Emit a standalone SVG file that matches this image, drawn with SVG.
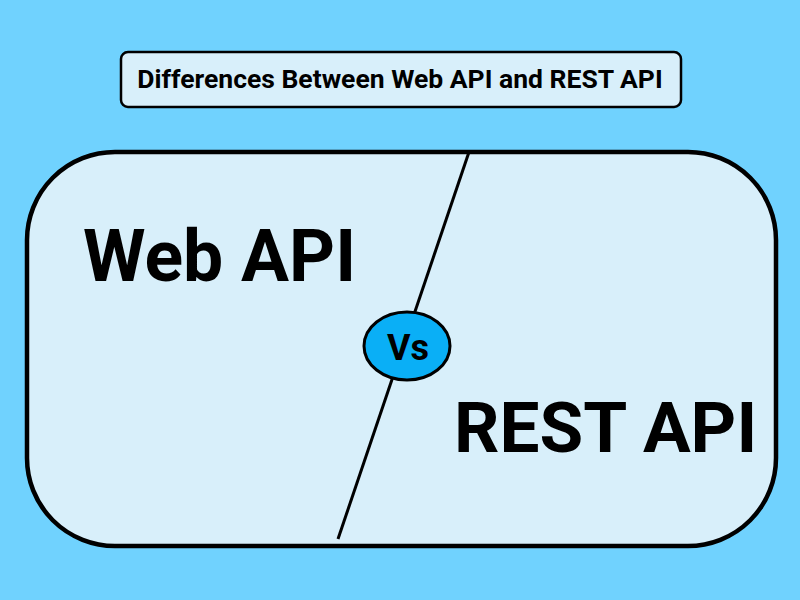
<svg xmlns="http://www.w3.org/2000/svg" width="800" height="600" viewBox="0 0 800 600">
<style>
.t{font-family:Roboto,"Liberation Sans",sans-serif;font-weight:bold;fill:#000}
</style>
<rect width="800" height="600" fill="#70D2FE"/>
<g id="title">
<rect x="121" y="52" width="560" height="55" rx="7" fill="#D8EFFA" stroke="#000" stroke-width="2.5"/>
<text class="t" x="400" y="88" font-size="26.5" text-anchor="middle">Differences Between Web API and REST API</text>
</g>
<g id="panel">
<rect x="27" y="152" width="749" height="394" rx="88" fill="#D8EFFA" stroke="#000" stroke-width="4.5"/>
</g>
<g id="connectors">
<line x1="469" y1="152" x2="338" y2="539" stroke="#000" stroke-width="3"/>
</g>
<g id="web">
<text class="t" x="83" y="281" font-size="71.5">Web API</text>
</g>
<g id="rest">
<text class="t" x="454" y="452" font-size="71">REST API</text>
</g>
<g id="vs">
<ellipse cx="407" cy="346" rx="43" ry="34" fill="#0AAFF6" stroke="#000" stroke-width="3"/>
<text class="t" x="408" y="360" font-size="36" text-anchor="middle">Vs</text>
</g>
</svg>
